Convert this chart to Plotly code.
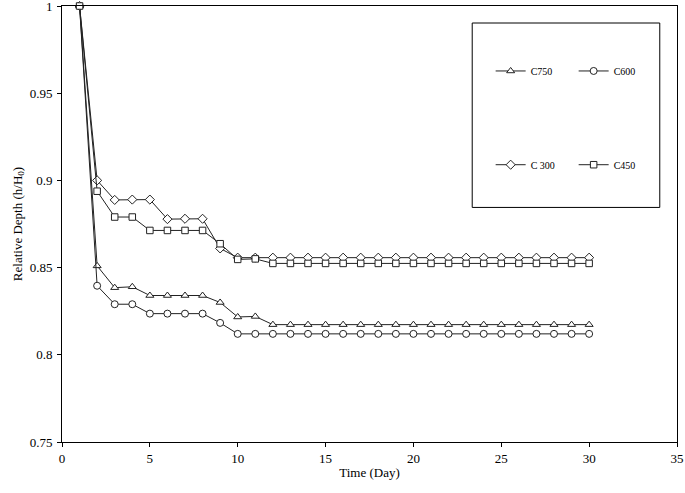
import plotly.graph_objects as go

days = list(range(1, 31))
c750 = [1.0, 0.851, 0.8385, 0.839, 0.834, 0.834, 0.834, 0.834, 0.830, 0.8217, 0.822] + [0.8173] * 19
c600 = [1.0, 0.8396, 0.829, 0.829, 0.8236, 0.8236, 0.8236, 0.8236, 0.8183, 0.812] + [0.812] * 20
c300 = [1.0, 0.900, 0.8888, 0.889, 0.889, 0.8778, 0.878, 0.878, 0.861, 0.8557] + [0.8557] * 20
c450 = [1.0, 0.8938, 0.879, 0.879, 0.8713, 0.8713, 0.8713, 0.8713, 0.8637, 0.8547, 0.855] + [0.8524] * 19

y_ticks = [0.75, 0.8, 0.85, 0.9, 0.95, 1.0]
y_labels = ["0.75", "0.8", "0.85", "0.9", "0.95", "1"]
x_ticks = [0, 5, 10, 15, 20, 25, 30, 35]

series = [
    ("C750", c750, "triangle-up", "legend"),
    ("C600", c600, "circle", "legend"),
    ("C 300", c300, "diamond", "legend2"),
    ("C450", c450, "square", "legend2"),
]

FONT = "Liberation Serif"
fig = go.Figure()
for name, vals, sym, lg in series:
    fig.add_trace(go.Scatter(
        x=days, y=vals, name=name, mode="lines+markers",
        line=dict(color="#222222", width=1),
        marker=dict(symbol=sym, size=7 if sym != "square" else 6.5, color="white",
                    line=dict(color="#222222", width=1)),
        cliponaxis=False, legend=lg,
    ))

fig.update_layout(
    width=685, height=493,
    margin=dict(l=62, r=8, t=6, b=51, autoexpand=False),
    paper_bgcolor="white", plot_bgcolor="white",
    font=dict(family=FONT, size=13, color="black"),
    showlegend=True,
    legend=dict(orientation="h", x=0.697, y=0.851, xanchor="left", yanchor="middle",
                bgcolor="rgba(0,0,0,0)", font=dict(size=10, family=FONT),
                entrywidth=38, entrywidthmode="pixels", traceorder="normal"),
    legend2=dict(orientation="h", x=0.697, y=0.636, xanchor="left", yanchor="middle",
                 bgcolor="rgba(0,0,0,0)", font=dict(size=10, family=FONT),
                 entrywidth=38, entrywidthmode="pixels", traceorder="normal"),
    xaxis=dict(range=[0, 35], tickvals=x_ticks, showgrid=False, zeroline=False,
               showline=True, linecolor="black", linewidth=1, mirror=True,
               ticks="outside", ticklen=4, tickcolor="black", automargin=False,
               ticklabeloverflow="allow",
               title=dict(text="Time (Day)", font=dict(size=13, family=FONT), standoff=3),
               tickfont=dict(size=13, family=FONT)),
    yaxis=dict(range=[0.75, 1.0], tickvals=y_ticks, ticktext=y_labels, showgrid=False, zeroline=False,
               showline=True, linecolor="black", linewidth=1, mirror=True,
               ticks="outside", ticklen=4, tickcolor="black", automargin=False,
               ticklabeloverflow="allow", ticklabelstandoff=2,
               title=dict(text="Relative Depth (h/H<sub>0</sub>)", font=dict(size=13, family=FONT), standoff=4),
               tickfont=dict(size=13, family=FONT)),
    shapes=[dict(type="rect", xref="paper", yref="paper", x0=0.667, x1=0.972, y0=0.538, y1=0.961,
                 line=dict(color="black", width=1), fillcolor="rgba(0,0,0,0)")],
)

fig.write_html("out.html", config={"displayModeBar": False},
               post_script="document.body.style.margin='0';")
